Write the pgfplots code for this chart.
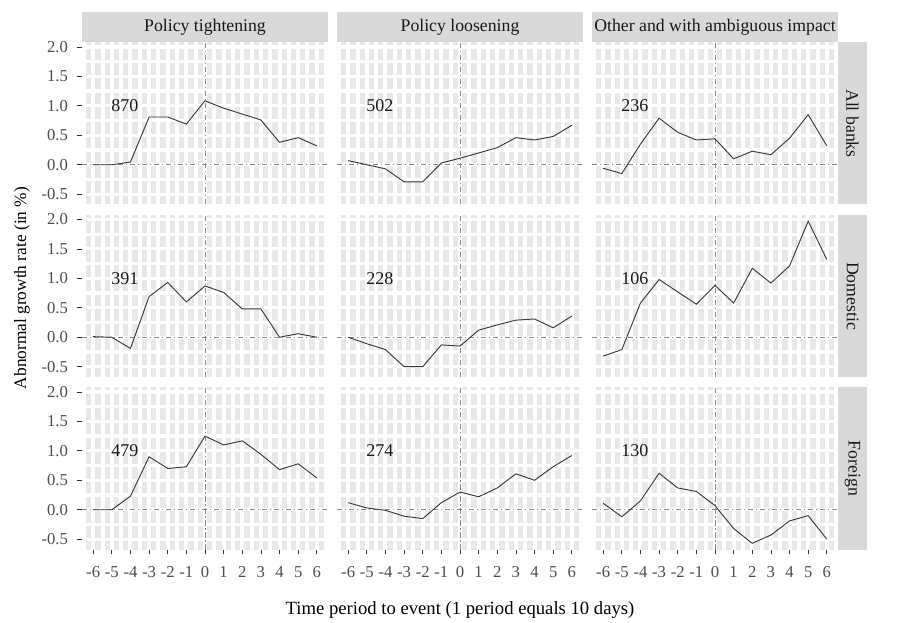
\documentclass[border=0pt]{standalone}
\usepackage{pgfplots}
\pgfplotsset{compat=1.18}
\usepackage{pgfplotstable}
\usepackage{fontspec}
\setmainfont{Liberation Serif}

\definecolor{panelbg}{HTML}{E8E8E8}
\definecolor{stripbg}{HTML}{D9D9D9}
\definecolor{ticktext}{HTML}{4D4D4D}
\definecolor{tickcol}{HTML}{333333}
\definecolor{refcol}{HTML}{8A8A8A}
\definecolor{linecol}{HTML}{3A3A3A}

% abnormal growth rate (%) by period, one table per event type
\pgfplotstableread{
t   all    dom    for
-6  0.00   0.01   0.00
-5  0.00   0.00   0.00
-4  0.045 -0.19   0.23
-3  0.81   0.69   0.90
-2  0.81   0.93   0.70
-1  0.69   0.60   0.73
0   1.085  0.87   1.25
1   0.96   0.76   1.10
2   0.86   0.48   1.17
3   0.76   0.48   0.94
4   0.38   0.00   0.68
5   0.46   0.06   0.78
6   0.32   0.00   0.54
}\tight

\pgfplotstableread{
t   all    dom    for
-6  0.07   0.00   0.12
-5  0.00  -0.11   0.03
-4 -0.07  -0.21  -0.01
-3 -0.29  -0.50  -0.11
-2 -0.29  -0.50  -0.15
-1  0.03  -0.13   0.12
0   0.11  -0.15   0.30
1   0.20   0.12   0.22
2   0.29   0.21   0.37
3   0.46   0.29   0.61
4   0.42   0.31   0.50
5   0.48   0.16   0.73
6   0.67   0.36   0.92
}\loose

\pgfplotstableread{
t   all    dom    for
-6 -0.06  -0.32   0.11
-5 -0.15  -0.21  -0.12
-4  0.35   0.58   0.15
-3  0.79   0.98   0.62
-2  0.55   0.77   0.37
-1  0.42   0.56   0.31
0   0.44   0.88   0.07
1   0.10   0.58  -0.32
2   0.23   1.17  -0.57
3   0.17   0.92  -0.43
4   0.45   1.21  -0.19
5   0.85   1.97  -0.10
6   0.32   1.32  -0.50
}\other

\pgfplotsset{
  panel/.style={
    scale only axis, width=184.5pt, height=121.5pt, anchor=north west,
    xmin=-6.6, xmax=6.6, ymin=-0.675, ymax=2.075,
    axis background/.style={fill=panelbg},
    axis line style={draw=none},
    xtick={-6,-5,-4,-3,-2,-1,0,1,2,3,4,5,6},
    ytick={-0.5,0,0.5,1,1.5,2},
    minor xtick={-6.5,-5.5,-4.5,-3.5,-2.5,-1.5,-0.5,0.5,1.5,2.5,3.5,4.5,5.5,6.5},
    minor ytick={-0.25,0.25,0.75,1.25,1.75},
    grid=both,
    every major x grid/.style={white, line width=3pt},
    every minor x grid/.style={white, line width=3pt},
    every major y grid/.style={white, line width=2.4pt},
    every minor y grid/.style={white, line width=2.4pt},
    tick align=outside, major tick length=3.5pt, minor tick length=0pt,
    xtick pos=bottom, ytick pos=left,
    xticklabels={}, yticklabels={},
    xtick style={draw=none}, ytick style={draw=none},
    tick label style={font=\fontsize{12.5}{14}\selectfont, text=ticktext},
    yticklabel style={xshift=-3.5pt},
    xticklabel style={yshift=-6pt},
  },
  leftcol/.style={
    yticklabels={-0.5,0.0,0.5,1.0,1.5,2.0},
    ytick style={draw=tickcol, line width=0.5pt},
  },
  bottomrow/.style={
    xticklabels={-6,-5,-4,-3,-2,-1,0,1,2,3,4,5,6},
    xtick style={draw=tickcol, line width=0.5pt},
  },
  refline/.style={refcol, line width=0.6pt, dash pattern=on 4pt off 2pt on 1pt off 2pt, forget plot},
  dataline/.style={linecol, line width=0.7pt, mark=none},
}

% #1 x, #2 y, #3 table, #4 column, #5 count, #6 options
\newcommand{\panel}[6]{%
  \begin{axis}[panel, at={(#1,#2)}, #6]
    \addplot[refline] coordinates {(-6.6,0) (6.6,0)};
    \addplot[refline] coordinates {(0,-0.675) (0,2.075)};
    \addplot[dataline] table[x=t, y=#4] {#3};
    \node[font=\fontsize{13.5}{15}\selectfont, text=black!90] at (axis cs:-4.3,1.0) {#5};
  \end{axis}}

\begin{document}
\begin{tikzpicture}
\useasboundingbox (0,0) rectangle (675pt,-467.25pt);

\panel{61.5pt}{-31.875pt}{\tight}{all}{870}{leftcol}
\panel{252.75pt}{-31.875pt}{\loose}{all}{502}{}
\panel{444pt}{-31.875pt}{\other}{all}{236}{}

\panel{61.5pt}{-161.25pt}{\tight}{dom}{391}{leftcol}
\panel{252.75pt}{-161.25pt}{\loose}{dom}{228}{}
\panel{444pt}{-161.25pt}{\other}{dom}{106}{}

\panel{61.5pt}{-290.625pt}{\tight}{for}{479}{leftcol, bottomrow}
\panel{252.75pt}{-290.625pt}{\loose}{for}{274}{bottomrow}
\panel{444pt}{-290.625pt}{\other}{for}{130}{bottomrow}

% facet strips
\foreach \x/\lab in {61.5/Policy tightening, 252.75/Policy loosening, 444/Other and with ambiguous impact} {
  \fill[stripbg] (\x pt,-9pt) rectangle ++(184.5pt,-22.875pt);
  \node[font=\fontsize{13.3}{15}\selectfont, text=black!90] at (\x pt+92.25pt,-20.6pt) {\lab};
}
\foreach \y/\lab in {31.875/All banks, 161.25/Domestic, 290.625/Foreign} {
  \fill[stripbg] (628.5pt,-\y pt) rectangle ++(21.75pt,-121.5pt);
  \node[rotate=-90, font=\fontsize{13.3}{15}\selectfont, text=black!90] at (639.4pt,-\y pt-60.75pt) {\lab};
}

\node[rotate=90, font=\fontsize{13}{15}\selectfont] at (16.5pt,-216pt) {Abnormal growth rate (in \%)};
\node[font=\fontsize{14}{16}\selectfont] at (345pt,-457.5pt) {Time period to event (1 period equals 10 days)};
\end{tikzpicture}
\end{document}
